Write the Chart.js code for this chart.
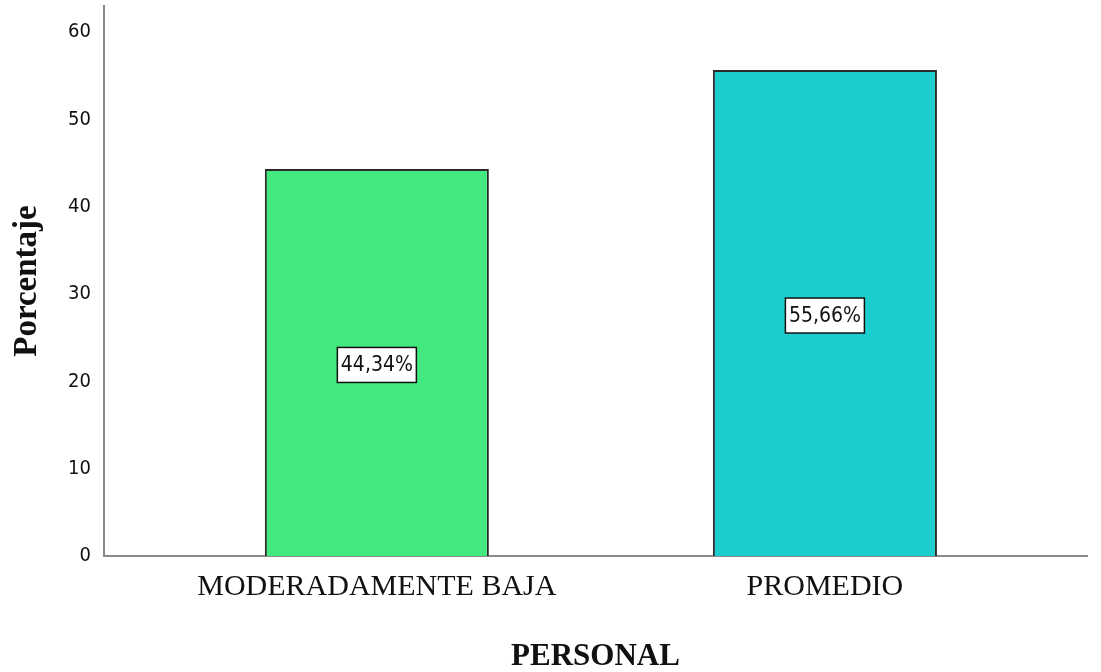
<!DOCTYPE html>
<html>
<head>
<meta charset="utf-8">
<script src="https://cdn.jsdelivr.net/npm/chart.js@4"></script>
<style>
html,body{margin:0;padding:0;background:#fff;}
#wrap{width:1101px;height:672px;position:relative;}
</style>
</head>
<body>
<div id="wrap"><canvas id="c" width="1101" height="672"></canvas></div>
<script>
const categories = ["MODERADAMENTE BAJA", "PROMEDIO"];
const percentValues = [44.34, 55.66];
const valueLabels = ["44,34%", "55,66%"];
const barColors = ["#42e97f", "#1ccdcd"];
const yTicks = [0, 10, 20, 30, 40, 50, 60];
const xTitle = "PERSONAL";
const yTitle = "Porcentaje";

const sansCond = "'DejaVu Sans Condensed', 'DejaVu Sans', sans-serif";
const serif = "'Liberation Serif', 'DejaVu Serif', serif";

const labelPlugin = {
  id: 'boxLabels',
  afterDatasetsDraw(chart) {
    const ctx = chart.ctx;
    const ys = chart.scales.y;
    const meta = chart.getDatasetMeta(0);
    meta.data.forEach((el, i) => {
      const cx = el.x;
      const cy = ys.getPixelForValue(percentValues[i] / 2) + 2.5;
      const w = 79, h = 35;
      ctx.save();
      ctx.fillStyle = '#ffffff';
      ctx.fillRect(cx - w / 2, cy - h / 2, w, h);
      ctx.strokeStyle = '#111';
      ctx.lineWidth = 1.5;
      ctx.strokeRect(cx - w / 2, cy - h / 2, w, h);
      ctx.fillStyle = '#111';
      ctx.font = "21px " + sansCond;
      ctx.textAlign = 'center';
      ctx.textBaseline = 'middle';
      ctx.fillText(valueLabels[i], cx, cy + 1);
      ctx.restore();
    });
  }
};

new Chart(document.getElementById('c'), {
  type: 'bar',
  data: {
    labels: [0, 1],
    datasets: [{
      data: percentValues.map((v, i) => ({x: i, y: v})),
      backgroundColor: barColors,
      borderColor: '#2a2a2a',
      borderWidth: 2,
      categoryPercentage: 1,
      barPercentage: 0.5
    }]
  },
  options: {
    responsive: false,
    animation: false,
    layout: {padding: {top: 6, right: 14, left: 0, bottom: 0}},
    plugins: {legend: {display: false}, tooltip: {enabled: false}},
    scales: {
      x: {
        type: 'linear',
        offset: false,
        min: -0.609,
        max: 1.585,
        grid: {display: false, drawTicks: false, offset: false},
        border: {display: true, color: '#8a8a8a', width: 2},
        afterBuildTicks(scale) { scale.ticks = categories.map((c, i) => ({value: i})); },
        afterFit(scale) { scale.height = 116; scale.paddingLeft = 0; scale.paddingRight = 0; },
        ticks: {
          autoSkip: false,
          maxRotation: 0,
          padding: 13,
          color: '#111',
          font: {family: serif, size: 30},
          callback: (v) => categories[v]
        },
        title: {
          display: true,
          text: xTitle,
          color: '#111',
          font: {family: serif, size: 31, weight: 'bold'},
          padding: {top: 0, bottom: -4}
        }
      },
      y: {
        min: 0,
        max: 63,
        grid: {display: false, drawTicks: false},
        border: {display: true, color: '#8a8a8a', width: 2},
        afterBuildTicks(scale) { scale.ticks = yTicks.map(v => ({value: v})); },
        afterFit(scale) { scale.width = 104; scale.paddingTop = 0; scale.paddingBottom = 0; },
        ticks: {
          padding: 13,
          color: '#111',
          font: {family: sansCond, size: 20}
        },
        title: {
          display: true,
          text: yTitle,
          color: '#111',
          font: {family: serif, size: 33, weight: 'bold'},
          padding: {top: 8, bottom: 0}
        }
      }
    }
  },
  plugins: [labelPlugin]
});
</script>
</body>
</html>
